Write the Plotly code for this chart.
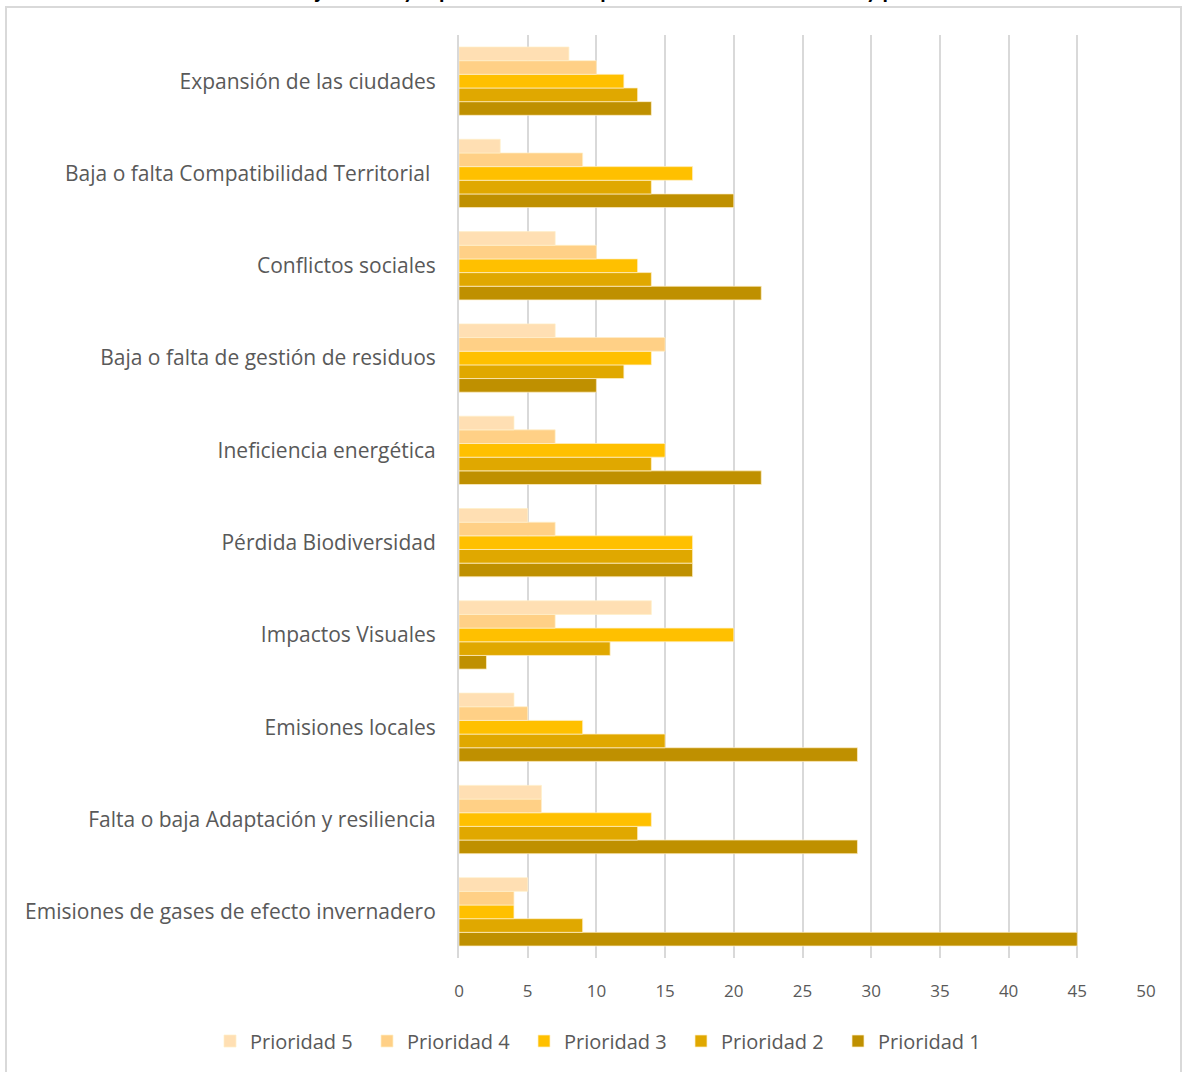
import plotly.graph_objects as go

# Categories listed bottom to top
categories = [
    "Emisiones de gases de efecto invernadero",
    "Falta o baja Adaptación y resiliencia",
    "Emisiones locales",
    "Impactos Visuales",
    "Pérdida Biodiversidad",
    "Ineficiencia energética",
    "Baja o falta de gestión de residuos",
    "Conflictos sociales",
    "Baja o falta Compatibilidad Territorial ",
    "Expansión de las ciudades",
]

prioridad_1 = [45, 29, 29, 2, 17, 22, 10, 22, 20, 14]
prioridad_2 = [9, 13, 15, 11, 17, 14, 12, 14, 14, 13]
prioridad_3 = [4, 14, 9, 20, 17, 15, 14, 13, 17, 12]
prioridad_4 = [4, 6, 5, 7, 7, 7, 15, 10, 9, 10]
prioridad_5 = [5, 6, 4, 14, 5, 4, 7, 7, 3, 8]

series_names = ["Prioridad 1", "Prioridad 2", "Prioridad 3", "Prioridad 4", "Prioridad 5"]
series_values = [prioridad_1, prioridad_2, prioridad_3, prioridad_4, prioridad_5]
colors = ["#BF9000", "#E0A800", "#FFC000", "#FFD086", "#FFDFB3"]

tick_vals = list(range(0, 51, 5))

title_text = "Gráfico 5: Ejes clave y representación de problemáticas ambientales y prioridades"

W, H = 1182, 1072
ml, mr, mt, mb = 459, 36, 35, 114
pw, ph = W - ml - mr, H - mt - mb

def px_x(p):
    return (p - ml) / pw

def px_y(p):
    return (H - mb - p) / ph

fig = go.Figure()
for name, vals, col in zip(series_names, series_values, colors):
    fig.add_trace(go.Bar(
        y=categories, x=vals, name=name, orientation="h",
        marker=dict(color=col, line=dict(color="rgba(255,240,200,0.9)", width=0.8)),
    ))

label_font = dict(family="'Open Sans', Lato, sans-serif", size=21, color="#595959")
legend_font = dict(family="'Open Sans', Lato, sans-serif", size=20, color="#595959")

fig.update_layout(
    width=W, height=H,
    margin=dict(l=ml, r=mr, t=mt, b=mb, autoexpand=False),
    paper_bgcolor="white", plot_bgcolor="white",
    barmode="group", bargap=0.26, bargroupgap=0,
    showlegend=True,
    legend=dict(
        orientation="h", traceorder="reversed",
        xref="paper", x=px_x(210), xanchor="left",
        y=px_y(1041), yanchor="middle",
        font=legend_font, itemwidth=30, entrywidth=112, entrywidthmode="pixels",
    ),
    xaxis=dict(
        range=[0, 50], tickvals=tick_vals, showgrid=True,
        gridcolor="#D9D9D9", gridwidth=2, zeroline=False,
        showline=False, ticks="outside", ticklen=18, tickcolor="rgba(0,0,0,0)",
        tickfont=dict(family="'Open Sans', Lato, sans-serif", size=17, color="#595959"),
        fixedrange=True,
    ),
    yaxis=dict(
        showgrid=False, zeroline=False, showline=True, linecolor="#D9D9D9", linewidth=2,
        ticks="outside", ticklen=17, tickcolor="rgba(0,0,0,0)",
        tickfont=label_font, automargin=False,
    ),
    shapes=[dict(
        type="rect", xref="paper", yref="paper",
        x0=px_x(6), x1=px_x(1181), y0=px_y(1085), y1=px_y(7),
        line=dict(color="#D9D9D9", width=2), fillcolor="rgba(0,0,0,0)", layer="below",
    )],
    annotations=[dict(
        text="<b>" + title_text + "</b>", xref="paper", x=px_x(598), xanchor="center",
        yref="paper", y=px_y(5), yanchor="bottom", showarrow=False,
        font=dict(family="Lato, sans-serif", size=22, color="#000000"),
    )],
)

fig.write_html("out.html")
